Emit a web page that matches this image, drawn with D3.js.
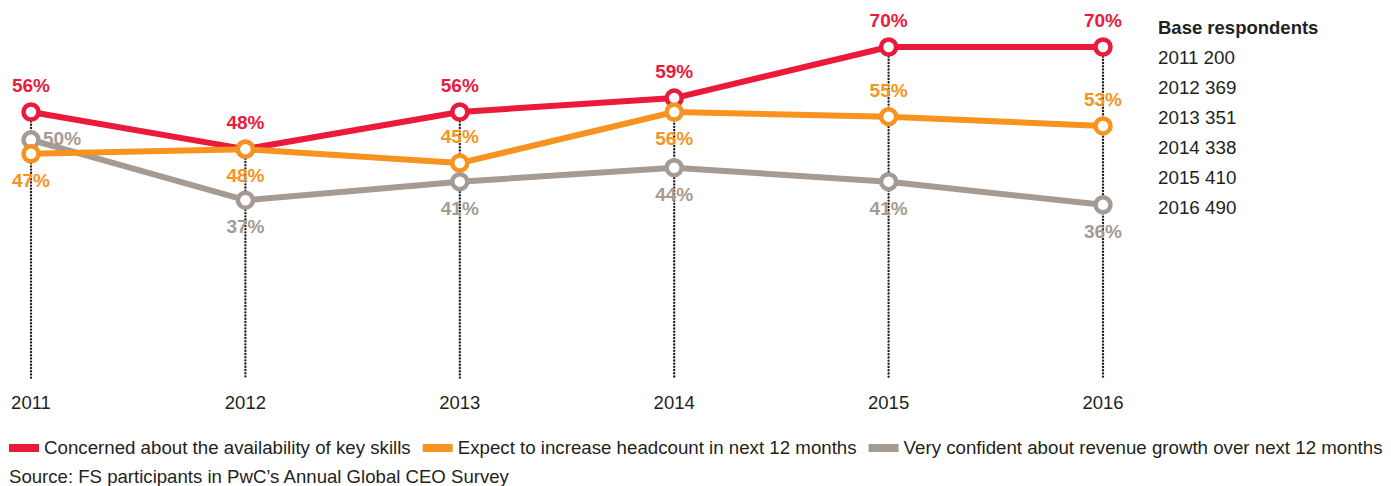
<!DOCTYPE html>
<html>
<head>
<meta charset="utf-8">
<script src="https://cdn.jsdelivr.net/npm/d3@7"></script>
<style>
  body { margin: 0; background: #fff; }
  svg text { font-family: "Liberation Sans", Arial, Helvetica, sans-serif; }
</style>
</head>
<body>
<div id="chart"></div>
<script>
const years = [2011, 2012, 2013, 2014, 2015, 2016];
const skills = [56, 48, 56, 59, 70, 70];
const headcount = [47, 48, 45, 56, 55, 53];
const revenue = [50, 37, 41, 44, 41, 36];
const respondents = [200, 369, 351, 338, 410, 490];
const seriesNames = [
  "Concerned about the availability of key skills",
  "Expect to increase headcount in next 12 months",
  "Very confident about revenue growth over next 12 months",
];
const sourceText = "Source: FS participants in PwC\u2019s Annual Global CEO Survey";

// where each value label sits relative to its point
const labelSide = {
  skills: ["above", "above", "above", "above", "above", "above"],
  headcount: ["below", "below", "above", "below", "above", "above"],
  revenue: ["right", "below", "below", "below", "below", "below"],
};

const width = 1391;
const height = 486;

const svg = d3
  .select("#chart")
  .append("svg")
  .attr("width", width)
  .attr("height", height);

const x = d3.scalePoint().domain(years).range([31, 1103]);
const y = d3.scaleLinear().domain([0, 70]).range([372, 47]);

const series = [
  { key: "revenue", values: revenue, color: "#a69b92", name: seriesNames[2] },
  { key: "skills", values: skills, color: "#eb1a3a", name: seriesNames[0] },
  { key: "headcount", values: headcount, color: "#f7931e", name: seriesNames[1] },
];

// dotted guides
svg
  .append("g")
  .selectAll("line")
  .data(years)
  .join("line")
  .attr("x1", (d) => x(d))
  .attr("x2", (d) => x(d))
  .attr("y1", (d, i) => y(Math.max(skills[i], headcount[i], revenue[i])))
  .attr("y2", 378)
  .attr("stroke", "#231f20")
  .attr("stroke-width", 2.4)
  .attr("stroke-linecap", "round")
  .attr("stroke-dasharray", "0,3.2");

// year labels
svg
  .append("g")
  .selectAll("text")
  .data(years)
  .join("text")
  .attr("x", (d) => x(d))
  .attr("y", 409)
  .attr("text-anchor", "middle")
  .attr("font-size", 18.5)
  .attr("fill", "#231f20")
  .text((d) => d);

const line = d3
  .line()
  .x((d, i) => x(years[i]))
  .y((d) => y(d));

series.forEach((s) => {
  const g = svg.append("g");
  g.append("path")
    .datum(s.values)
    .attr("d", line)
    .attr("fill", "none")
    .attr("stroke", s.color)
    .attr("stroke-width", 6)
    .attr("stroke-linejoin", "round");

  g.selectAll("circle")
    .data(s.values)
    .join("circle")
    .attr("cx", (d, i) => x(years[i]))
    .attr("cy", (d) => y(d))
    .attr("r", 7.5)
    .attr("fill", "#fff")
    .attr("stroke", s.color)
    .attr("stroke-width", 4.5);
});

// value labels
series.forEach((s) => {
  svg
    .append("g")
    .selectAll("text")
    .data(s.values)
    .join("text")
    .attr("x", (d, i) => (labelSide[s.key][i] === "right" ? x(years[i]) + 12 : x(years[i])))
    .attr("y", (d, i) => {
      const side = labelSide[s.key][i];
      if (side === "above") return y(d) - 20;
      if (side === "below") return y(d) + 33;
      return y(d) + 5;
    })
    .attr("text-anchor", (d, i) => (labelSide[s.key][i] === "right" ? "start" : "middle"))
    .attr("font-size", 19)
    .attr("font-weight", "bold")
    .attr("fill", s.color)
    .text((d) => d + "%");
});

// base respondents
const base = svg.append("g").attr("transform", "translate(1158,0)");
base
  .append("text")
  .attr("y", 34)
  .attr("font-size", 18.5)
  .attr("font-weight", "bold")
  .attr("fill", "#231f20")
  .text("Base respondents");
base
  .selectAll("text.row")
  .data(years)
  .join("text")
  .attr("class", "row")
  .attr("y", (d, i) => 64 + i * 30)
  .attr("font-size", 18.8)
  .attr("fill", "#231f20")
  .text((d, i) => d + " " + respondents[i]);

// legend
const legendOrder = [series[1], series[2], series[0]];
const legend = svg.append("g").attr("transform", "translate(9,0)");
let lx = 0;
legendOrder.forEach((s) => {
  legend
    .append("rect")
    .attr("x", lx)
    .attr("y", 444)
    .attr("width", 30)
    .attr("height", 8)
    .attr("fill", s.color);
  const t = legend
    .append("text")
    .attr("x", lx + 35)
    .attr("y", 454)
    .attr("font-size", 18.7)
    .attr("fill", "#231f20")
    .text(s.name);
  lx += 35 + t.node().getComputedTextLength() + 12;
});

svg
  .append("text")
  .attr("x", 9)
  .attr("y", 483)
  .attr("font-size", 18.6)
  .attr("fill", "#231f20")
  .text(sourceText);
</script>
</body>
</html>
